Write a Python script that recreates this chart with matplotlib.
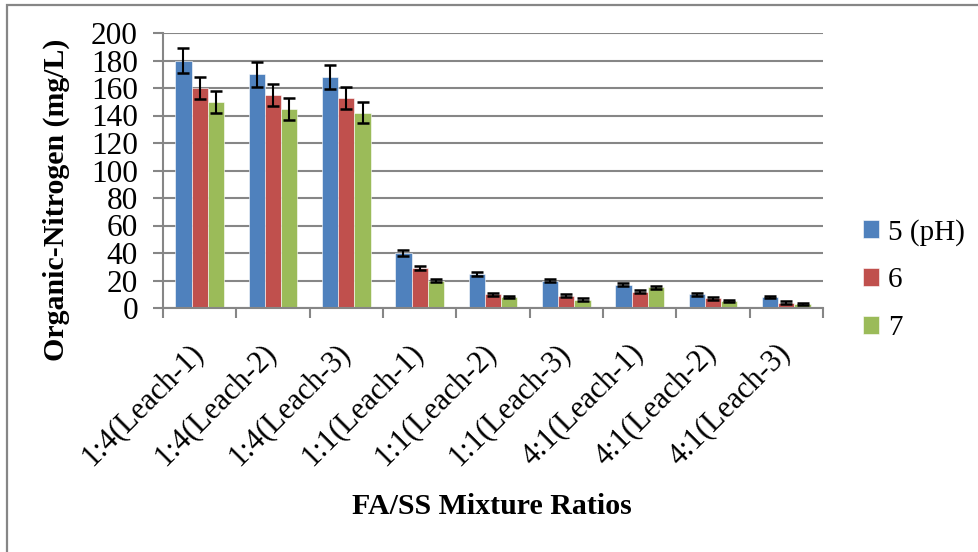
import numpy as np
import matplotlib.pyplot as plt
from matplotlib.patches import Rectangle
from matplotlib.transforms import ScaledTranslation

# data
categories = ['1:4(Leach-1)', '1:4(Leach-2)', '1:4(Leach-3)',
              '1:1(Leach-1)', '1:1(Leach-2)', '1:1(Leach-3)',
              '4:1(Leach-1)', '4:1(Leach-2)', '4:1(Leach-3)']
series_names = ['5 (pH)', '6', '7']
ph5 = [180, 170, 168, 40, 25, 20, 17, 10, 8]
ph6 = [160, 155, 153, 29, 10, 9, 12, 7, 4]
ph7 = [150, 145, 142, 20, 8, 6, 15, 5, 3]
err5 = [9, 9, 9, 2, 1.5, 1, 1, 1, 1]
err6 = [8, 8, 8, 1.5, 1, 1, 1, 1, 0.8]
err7 = [8, 8, 7.5, 1, 1, 1, 1, 0.8, 0.8]
colors = ['#4F81BD', '#C0504D', '#9BBB59']

plt.rcParams['font.family'] = ['Liberation Serif', 'DejaVu Serif']
grid_gray = '#868686'

fig = plt.figure(figsize=(9.79, 5.52), dpi=100)
ax = fig.add_axes([163 / 979, 1 - 308 / 552, 660 / 979, 275 / 552])

x = np.arange(len(categories))
width = 1 / 4.5
for i, (vals, errs) in enumerate(zip([ph5, ph6, ph7], [err5, err6, err7])):
    ax.bar(x + (i - 1) * width, vals, width, color=colors[i],
           edgecolor='white', linewidth=0.4, label=series_names[i], zorder=2)
    ax.errorbar(x + (i - 1) * width, vals, yerr=errs, fmt='none', ecolor='black',
                elinewidth=1.5, capsize=4.3, capthick=1.8, zorder=3)

ax.set_xlim(-0.5, len(categories) - 0.5)
ax.set_ylim(0, 200)
ax.set_yticks(np.arange(0, 201, 20))
ax.yaxis.grid(True, color=grid_gray, linewidth=1.5, zorder=0)
ax.set_axisbelow(True)

# ticks between the groups, labels at the group centres
ax.set_xticks(np.arange(-0.5, len(categories), 1))
ax.set_xticklabels([])
ax.set_xticks(x, minor=True)
ax.set_xticklabels(categories, minor=True, rotation=45, ha='right', va='top',
                   rotation_mode='anchor', fontsize=22)
ax.tick_params(axis='x', which='minor', length=0, pad=22)
ax.tick_params(axis='x', which='major', length=7, width=1.5, color=grid_gray)
ax.tick_params(axis='y', length=7, width=1.5, color=grid_gray, labelsize=22.5, pad=11)
shift = ScaledTranslation(-11 / 100, 0, fig.dpi_scale_trans)
for lab in ax.get_xticklabels(minor=True):
    lab.set_transform(lab.get_transform() + shift)

for side in ['top', 'right']:
    ax.spines[side].set_visible(False)
for side in ['left', 'bottom']:
    ax.spines[side].set_color(grid_gray)
    ax.spines[side].set_linewidth(1.5)

fig.text(56 / 979, 1 - 200 / 552, 'Organic-Nitrogen (mg/L)', rotation=90,
         ha='center', va='center', fontsize=21.5, fontweight='bold')
fig.text(492 / 979, 1 - 507 / 552, 'FA/SS Mixture Ratios',
         ha='center', va='center', fontsize=21.5, fontweight='bold')

fig.legend(loc='center left', bbox_to_anchor=(863 / 979, 1 - 280 / 552),
           frameon=False, fontsize=21, handlelength=0.55, handleheight=0.55,
           handletextpad=0.3, labelspacing=0.75, borderpad=0, borderaxespad=0)

# outer chart border (partly cut off in the reference)
fig.patches.append(Rectangle((7.5 / 979, -0.1), 1.2, 1 - 4.5 / 552 + 0.1,
                             transform=fig.transFigure, fill=False,
                             edgecolor=grid_gray, linewidth=1.6))

fig.savefig('out.png', dpi=100)
